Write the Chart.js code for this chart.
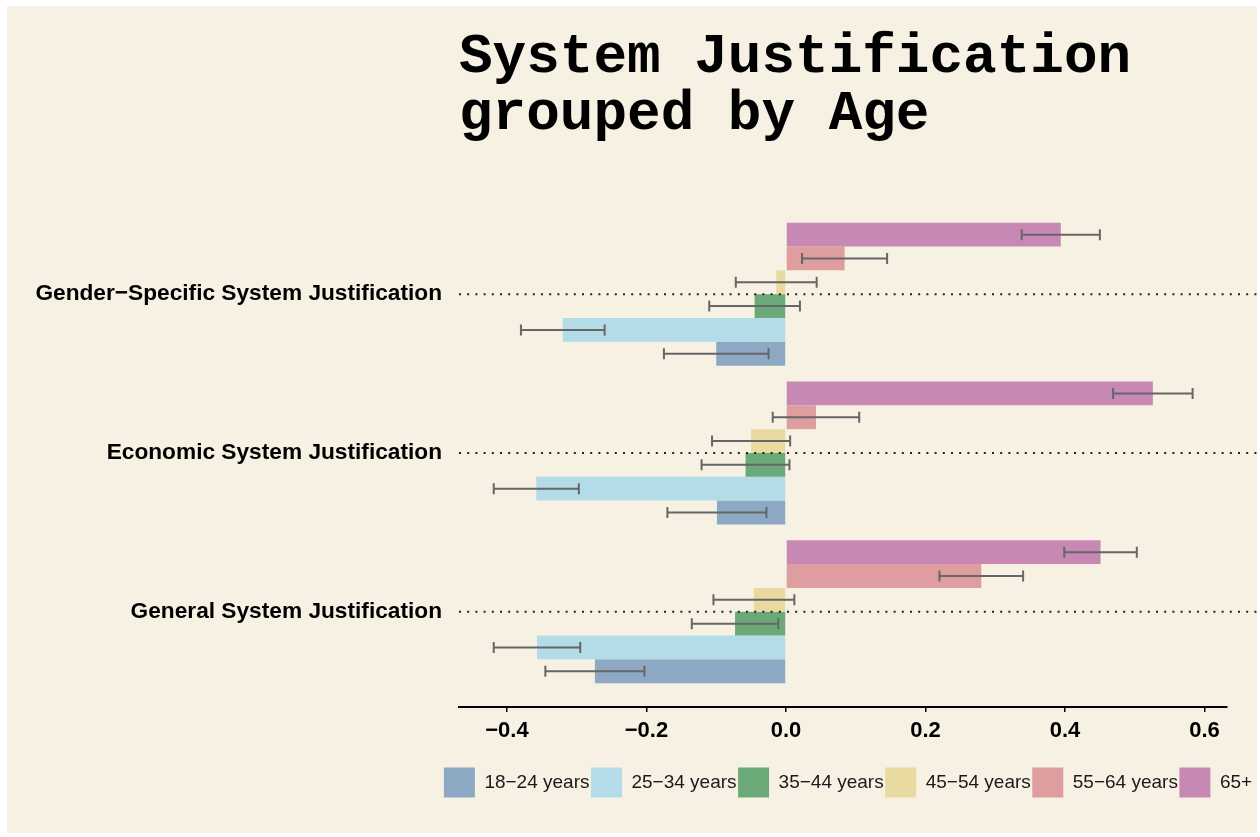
<!DOCTYPE html>
<html>
<head>
<meta charset="utf-8">
<script src="https://cdn.jsdelivr.net/npm/chart.js@4"></script>
<style>
  html, body { margin: 0; background: #fff; }
  #panel { position: absolute; left: 7px; top: 6px; width: 1250px; height: 827px; background: #F7F1E4; }
  canvas { display: block; }
</style>
</head>
<body>
<div id="panel"><canvas id="ageChart" width="1250" height="827"></canvas></div>
<script>
// categories from bottom to top of the plot
const categories = ['General System Justification', 'Economic System Justification', 'Gender−Specific System Justification'];
const ageGroups = ['18−24 years', '25−34 years', '35−44 years', '45−54 years', '55−64 years', '65+'];

// means, same order as categories
const age1824 = [-0.274, -0.099, -0.100];
const age2534 = [-0.357, -0.358, -0.320];
const age3544 = [-0.073, -0.058, -0.045];
const age4554 = [-0.046, -0.050, -0.014];
const age5564 = [0.280, 0.043, 0.084];
const age65 = [0.451, 0.526, 0.394];

// half width of the error bars
const err1824 = [0.071, 0.071, 0.075];
const err2534 = [0.062, 0.061, 0.060];
const err3544 = [0.062, 0.063, 0.065];
const err4554 = [0.058, 0.056, 0.058];
const err5564 = [0.060, 0.062, 0.061];
const err65 = [0.052, 0.057, 0.056];

const xTicks = [-0.4, -0.2, 0, 0.2, 0.4, 0.6];
const xTickLabels = ['−0.4', '−0.2', '0.0', '0.2', '0.4', '0.6'];

const colors = ['#8CA8C2', '#B3DBE8', '#6BA978', '#E8DAA0', '#DE9EA0', '#C888B4'];
const means = [age1824, age2534, age3544, age4554, age5564, age65];
const errors = [err1824, err2534, err3544, err4554, err5564, err65];

const sans = "Arial, 'Liberation Sans', Helvetica, sans-serif";

// topmost bar in each group is the first dataset, so build oldest first
const datasets = ageGroups.map((label, k) => ({
    label: label,
    data: means[k].map((v, i) => ({ x: v, y: i })),
    errors: errors[k],
    backgroundColor: colors[k],
    borderWidth: 0
})).reverse();

const errorBars = {
    id: 'errorBars',
    afterDatasetsDraw(chart) {
        const ctx = chart.ctx;
        const xScale = chart.scales.x;
        const yScale = chart.scales.y;
        const area = chart.chartArea;
        ctx.save();
        // dotted line through each category
        ctx.strokeStyle = '#222';
        ctx.lineWidth = 2;
        ctx.setLineDash([2, 6.2]);
        categories.forEach((c, i) => {
            const y = yScale.getPixelForValue(i);
            ctx.beginPath();
            ctx.moveTo(area.left, y);
            ctx.lineTo(chart.width, y);
            ctx.stroke();
        });
        ctx.setLineDash([]);
        ctx.strokeStyle = '#666';
        ctx.lineWidth = 2;
        chart.data.datasets.forEach((ds, di) => {
            const meta = chart.getDatasetMeta(di);
            meta.data.forEach((bar, i) => {
                const v = ds.data[i].x;
                const e = ds.errors[i];
                const x1 = xScale.getPixelForValue(v - e);
                const x2 = xScale.getPixelForValue(v + e);
                const y = bar.y;
                ctx.beginPath();
                ctx.moveTo(x1, y); ctx.lineTo(x2, y);
                ctx.moveTo(x1, y - 5.5); ctx.lineTo(x1, y + 5.5);
                ctx.moveTo(x2, y - 5.5); ctx.lineTo(x2, y + 5.5);
                ctx.stroke();
            });
        });
        ctx.restore();
    }
};

// keep the legend on one row, centred a little right of the plot centre
const legendPlace = {
    id: 'legendPlace',
    afterLayout(chart) {
        const lg = chart.legend;
        const mid = (chart.chartArea.left + chart.chartArea.right) / 2 + 5;
        const shift = mid - (lg.left + lg.right) / 2;
        lg.left += shift;
        lg.right += shift;
    }
};

const ctx = document.getElementById('ageChart').getContext('2d');
new Chart(ctx, {
    type: 'bar',
    data: { datasets: datasets },
    plugins: [errorBars, legendPlace],
    options: {
        indexAxis: 'y',
        responsive: false,
        animation: false,
        categoryPercentage: 0.9,
        barPercentage: 1.0,
        layout: { padding: { left: 0, right: 30, top: 0, bottom: 25.5 } },
        scales: {
            y: {
                type: 'linear',
                min: -0.6,
                max: 2.6,
                offset: false,
                afterBuildTicks: axis => { axis.ticks = categories.map((c, i) => ({ value: i })); },
                afterFit: axis => { axis.width = 452; },
                grid: { display: false, drawTicks: false, offset: false },
                border: { display: false },
                ticks: {
                    padding: 17,
                    color: '#000',
                    font: { family: sans, size: 22.7, weight: 'bold' },
                    callback: v => categories[v]
                }
            },
            x: {
                type: 'linear',
                min: -0.4688,
                max: 0.6323,
                afterBuildTicks: axis => { axis.ticks = xTicks.map(v => ({ value: v })); },
                afterFit: axis => { axis.height = 59; },
                grid: { drawOnChartArea: false, drawTicks: true, tickLength: 5, color: '#000', lineWidth: 1.5 },
                border: { display: true, color: '#000', width: 2 },
                ticks: {
                    padding: 6,
                    color: '#000',
                    maxRotation: 0,
                    autoSkip: false,
                    font: { family: sans, size: 22, weight: 'bold' },
                    callback: (v, i) => xTickLabels[i]
                }
            }
        },
        plugins: {
            title: {
                display: true,
                text: ['System Justification', 'grouped by Age'],
                align: 'start',
                fullSize: false,
                color: '#000',
                font: { family: "'Courier New', 'Liberation Mono', monospace", size: 56, weight: 'bold', lineHeight: 1.018 },
                padding: { top: 23.5, bottom: 55.4 }
            },
            legend: {
                position: 'bottom',
                reverse: true,
                labels: {
                    boxWidth: 31,
                    boxHeight: 30,
                    padding: 1.5,
                    color: '#1a1a1a',
                    font: { family: sans, size: 19 }
                }
            },
            tooltip: { enabled: false }
        }
    }
});
</script>
</body>
</html>
